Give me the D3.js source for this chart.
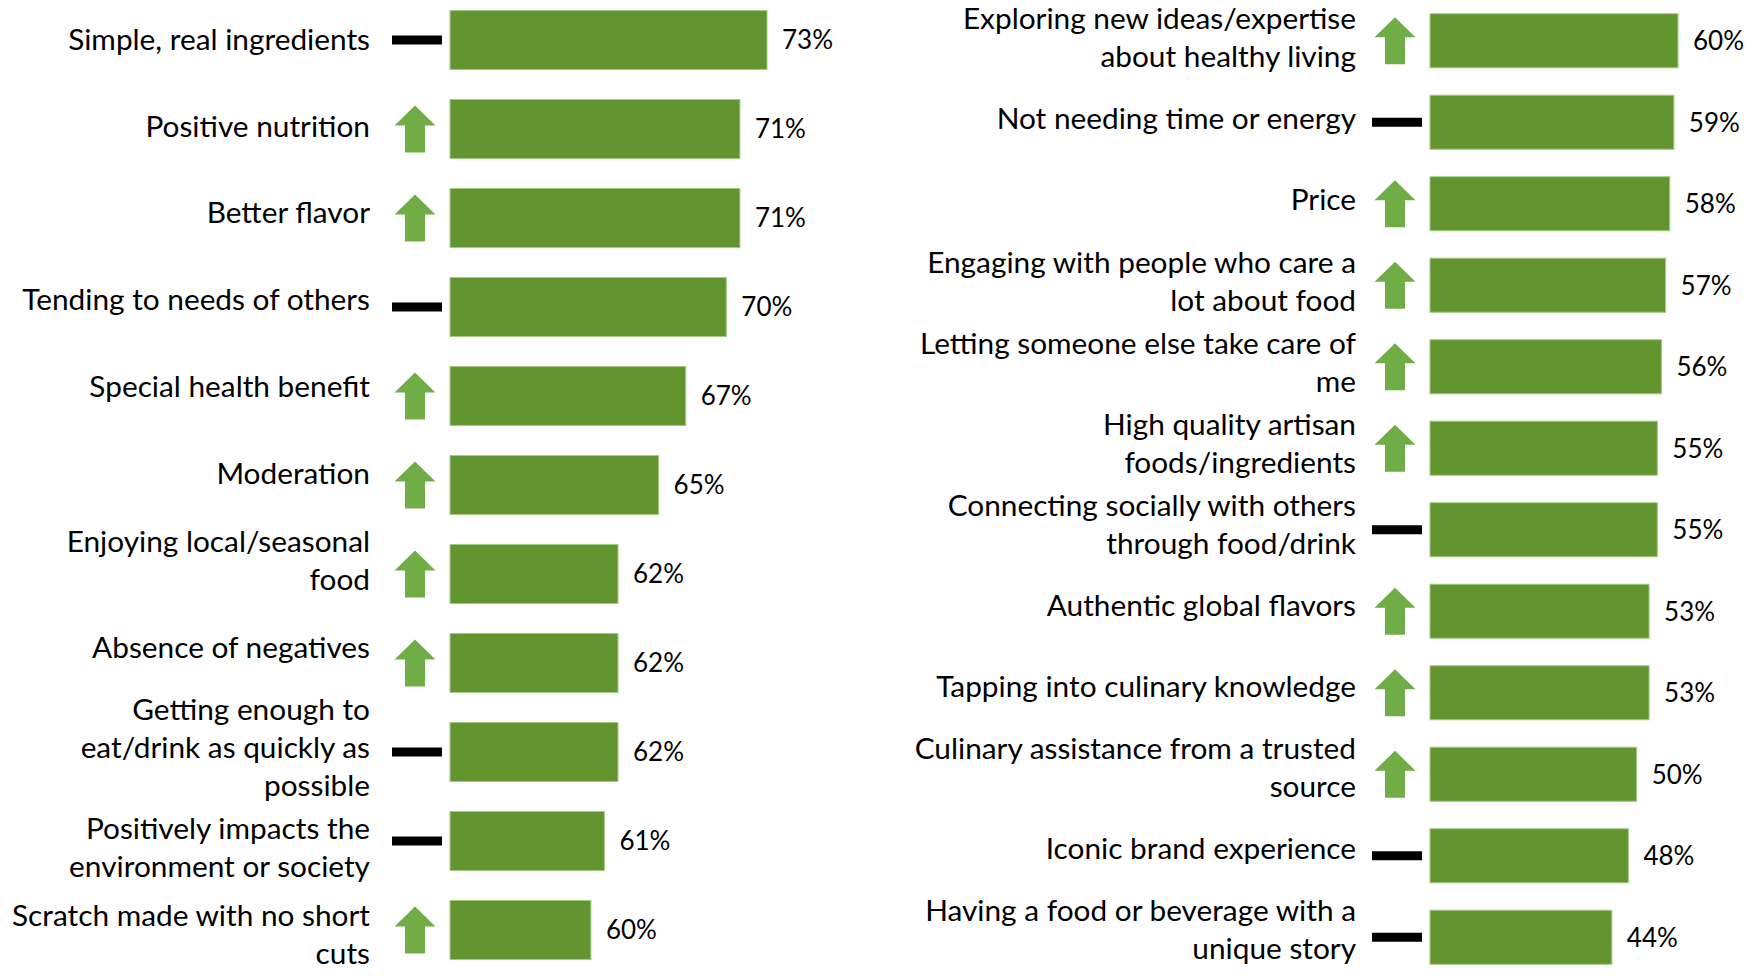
<!DOCTYPE html>
<html>
<head>
<meta charset="utf-8">
<script src="https://cdn.jsdelivr.net/npm/d3@7"></script>
<style>
  html, body { margin: 0; padding: 0; background: #ffffff; }
  svg { display: block; }
  text { font-family: Lato, "Open Sans", sans-serif; fill: #000000; }
</style>
</head>
<body>
<svg id="chart" width="1752" height="978"></svg>
<script>
// Drivers of food & beverage choice, two columns, with a trend marker per row
const leftCategories = [
  "Simple, real ingredients",
  "Positive nutrition",
  "Better flavor",
  "Tending to needs of others",
  "Special health benefit",
  "Moderation",
  "Enjoying local/seasonal\nfood",
  "Absence of negatives",
  "Getting enough to\neat/drink as quickly as\npossible",
  "Positively impacts the\nenvironment or society",
  "Scratch made with no short\ncuts"
];
const leftValues = [73, 71, 71, 70, 67, 65, 62, 62, 62, 61, 60];
const leftTrend = ["flat", "up", "up", "flat", "up", "up", "up", "up", "flat", "flat", "up"];

const rightCategories = [
  "Exploring new ideas/expertise\nabout healthy living",
  "Not needing time or energy",
  "Price",
  "Engaging with people who care a\nlot about food",
  "Letting someone else take care of\nme",
  "High quality artisan\nfoods/ingredients",
  "Connecting socially with others\nthrough food/drink",
  "Authentic global flavors",
  "Tapping into culinary knowledge",
  "Culinary assistance from a trusted\nsource",
  "Iconic brand experience",
  "Having a food or beverage with a\nunique story"
];
const rightValues = [60, 59, 58, 57, 56, 55, 55, 53, 53, 50, 48, 44];
const rightTrend = ["up", "flat", "up", "up", "up", "up", "flat", "up", "up", "up", "flat", "flat"];

const BAR_FILL = "#62952f";
const BAR_EDGE = "#a3cc82";
const ARROW_FILL = "#70ad47";
const LABEL_SIZE = 29.8;
const VALUE_SIZE = 26;
const LINE_H = 38;

const svg = d3.select("#chart");

function drawPanel(cfg) {
  const { categories, values, trend, x, yRange, labelRange, labelRight } = cfg;
  const idx = d3.range(categories.length);

  const y = d3.scaleBand()
    .domain(idx)
    .range(yRange)
    .paddingInner(0.337)
    .paddingOuter(0.1685);

  const g = svg.append("g");

  // bars
  g.selectAll("rect.bar")
    .data(idx)
    .join("rect")
    .attr("class", "bar")
    .attr("x", x.range()[0])
    .attr("y", i => y(i))
    .attr("width", i => x(values[i]) - x.range()[0])
    .attr("height", y.bandwidth())
    .attr("fill", BAR_FILL)
    .attr("stroke", BAR_EDGE)
    .attr("stroke-width", 1);

  // value labels
  g.selectAll("text.value")
    .data(idx)
    .join("text")
    .attr("class", "value")
    .attr("x", i => x(values[i]) + 15)
    .attr("y", i => y(i) + y.bandwidth() / 2 + VALUE_SIZE * 0.36)
    .attr("font-size", VALUE_SIZE)
    .text(i => values[i] + "%");

  // trend markers: up arrow or flat dash, just left of the bars
  const x0 = x.range()[0];
  idx.forEach(i => {
    const cy = y(i) + y.bandwidth() / 2;
    if (trend[i] === "up") {
      const cx = x0 - 35;
      const w = 41, h = 47, headH = 20, shaft = 20;
      const top = cy - h / 2, bot = cy + h / 2;
      const p = d3.path();
      p.moveTo(cx, top);
      p.lineTo(cx + w / 2, top + headH);
      p.lineTo(cx + shaft / 2, top + headH);
      p.lineTo(cx + shaft / 2, bot);
      p.lineTo(cx - shaft / 2, bot);
      p.lineTo(cx - shaft / 2, top + headH);
      p.lineTo(cx - w / 2, top + headH);
      p.closePath();
      g.append("path").attr("d", p.toString()).attr("fill", ARROW_FILL);
    } else {
      const cx = x0 - 33;
      g.append("rect")
        .attr("x", cx - 25)
        .attr("y", cy - 4.5)
        .attr("width", 50)
        .attr("height", 9)
        .attr("fill", "#000000");
    }
  });

  // category labels laid out in rows that grow with their line count
  const lines = categories.map(c => c.split("\n"));
  const weights = lines.map(l => Math.max(2.29, l.length));
  const cum = [0];
  weights.forEach(w => cum.push(cum[cum.length - 1] + w));
  const rowY = d3.scaleLinear().domain([0, cum[cum.length - 1]]).range(labelRange);

  idx.forEach(i => {
    const mid = rowY((cum[i] + cum[i + 1]) / 2);
    const n = lines[i].length;
    const t = g.append("text")
      .attr("class", "label")
      .attr("text-anchor", "end")
      .attr("font-size", LABEL_SIZE);
    lines[i].forEach((line, k) => {
      t.append("tspan")
        .attr("x", labelRight)
        .attr("y", mid + (k - (n - 1) / 2) * LINE_H + LABEL_SIZE * 0.36)
        .text(line);
    });
  });
}

drawPanel({
  categories: leftCategories,
  values: leftValues,
  trend: leftTrend,
  x: d3.scaleLinear().domain([49.6, 73]).range([450, 767]),
  yRange: [-4.5, 974.5],
  labelRange: [-4.5, 978],
  labelRight: 370
});

drawPanel({
  categories: rightCategories,
  values: rightValues,
  trend: rightTrend,
  x: d3.scaleLinear().domain([0, 60]).range([1430, 1678]),
  yRange: [0, 978],
  labelRange: [-3, 970],
  labelRight: 1356
});
</script>
</body>
</html>
